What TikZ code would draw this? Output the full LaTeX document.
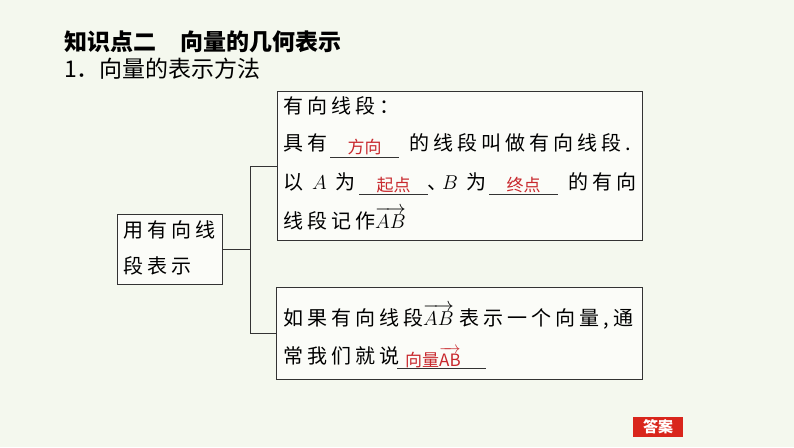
\RequirePackage{fix-cm}
\documentclass[tikz,border=0pt]{standalone}
\usepackage{amsmath}
\usepackage{fontspec}
\newfontfamily\cjk{Noto Sans CJK SC}
\newfontfamily\cjksp[LetterSpace=20]{Noto Sans CJK SC}
\definecolor{bgc}{HTML}{F4F8EE}
\definecolor{ansred}{HTML}{C8282D}
\definecolor{btnred}{HTML}{D9261C}
\definecolor{edge}{HTML}{333333}
\newcommand\ttlf{\cjk\fontsize{23}{27}\selectfont}
\newcommand\bxf{\cjksp\fontsize{20}{24}\selectfont}
\newcommand\ansf{\cjk\fontsize{17}{20}\selectfont\color{ansred}}
\tikzset{
  box/.style={draw=edge, line width=1.1pt, fill=white!60!bgc, inner sep=0pt, anchor=north west},
  txt/.style={anchor=base west, inner sep=0pt, font=\bxf},
  ans/.style={anchor=base, inner sep=0pt, font=\ansf},
  blank/.style={draw=edge, line width=0.9pt},
  conn/.style={draw=edge, line width=1.1pt}
}
\begin{document}
\begin{tikzpicture}[x=1pt,y=-1pt]
\fill[bgc] (0,0) rectangle (794,447);
\useasboundingbox (0,0) rectangle (794,447);
% titles
\node[anchor=base west, inner sep=0pt, font=\ttlf\bfseries] (title) at (64,50) {知识点二\hspace{24pt}向量的几何表示};
\node[anchor=base west, inner sep=0pt, font=\ttlf] (sub) at (64,77) {1．向量的表示方法};
% boxes
\node[box, minimum width=105pt, minimum height=70pt] (L) at (117,214) {};
\node[box, minimum width=365pt, minimum height=149pt] (T) at (277,91) {};
\node[box, minimum width=366pt, minimum height=92pt] (B) at (276,287) {};
% connectors
\draw[conn] (L.east) -- ++(27,0) coordinate (j);
\draw[conn] (T.west) -| (j) |- (B.west);
% left box text
\node[txt] (l1) at (123,237.5) {用有向线};
\node[txt] (l2) at (123,273.5) {段表示};
% top box text
\node[txt] (t1) at (283,113.5) {有向线段：};
\node[txt] (t2a) at (283,150.5) {具有};
\draw[blank] (330,157) coordinate (u1a) -- (399,157) coordinate (u1b);
\node[ans] (a1) at (364.5,153) {方向};
\node[txt] (t2b) at (409,150.5) {的线段叫做有向线段.};
\node[txt] (t3a) at (283,189.5) {以};
\node[txt] (t3A) at (312,189.5) {$A$};
\node[txt] (t3w) at (335,189.5) {为};
\draw[blank] (359,194) coordinate (u2a) -- (428,194) coordinate (u2b);
\node[ans] (a2) at (393.5,191) {起点};
\node[txt] (t3b) at (427,189.5) {、};
\node[txt] (t3B) at (442,189.5) {$B$};
\node[txt] (t3v) at (466,189.5) {为};
\draw[blank] (489,194) coordinate (u3a) -- (558,194) coordinate (u3b);
\node[ans] (a3) at (523.5,191) {终点};
\node[txt] (t3c) at (568,189.5) {的有向};
\node[txt] (t4) at (283,228.5) {线段记作$\overrightarrow{AB}$};
% bottom box text
\node[txt] (b1) at (283,325.5) {如果有向线段$\overrightarrow{AB}$\hspace{6pt}表示一个向量,通};
\node[txt] (b2) at (283,363.5) {常我们就说};
\draw[blank] (397,368) coordinate (u4a) -- (486,368) coordinate (u4b);
\node[anchor=base west, inner sep=0pt, font=\ansf] (a4) at (405,366) {向量$\overrightarrow{\hbox{\cjk AB}}$};
% answer button
\node[fill=btnred, text=white, font=\cjk\fontsize{15}{17}\selectfont\bfseries, minimum width=50pt, minimum height=20pt, inner sep=0pt] (btn) at (658,427) {答案};
\end{tikzpicture}
\end{document}
